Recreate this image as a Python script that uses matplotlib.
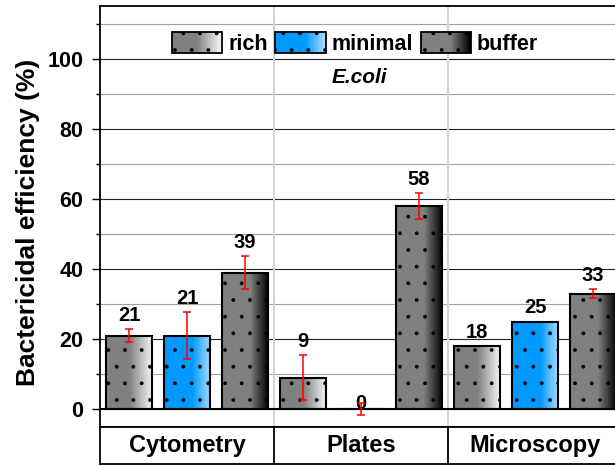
import numpy as np
import matplotlib
matplotlib.use('Agg')
import matplotlib.pyplot as plt
from matplotlib.colors import to_rgb
from matplotlib.legend_handler import HandlerBase
from matplotlib.patches import Rectangle

plt.rcParams['font.family'] = ['Liberation Sans', 'DejaVu Sans']
plt.rcParams['font.weight'] = 'bold'
plt.rcParams['hatch.color'] = 'black'
plt.rcParams['hatch.linewidth'] = 0.3

methods = ['Cytometry', 'Plates', 'Microscopy']
media = ['rich', 'minimal', 'buffer']
efficiency = {
    'rich': [21, 9, 18],
    'minimal': [21, 0, 25],
    'buffer': [39, 58, 33],
}
errors = {
    'rich': [1.8, 6.4, 0.0],
    'minimal': [6.7, 1.6, 0.0],
    'buffer': [4.7, 3.7, 1.3],
}
organism = 'E.coli'

# (flat colour, colour at right edge, fraction where the shading starts)
shading = {
    'rich': ('#808080', '#f8f8f8', 0.5),
    'minimal': ('#0099ff', '#a8dcff', 0.6),
    'buffer': ('#808080', '#000000', 0.6),
}


def gradient(name, n=64):
    base, end, knee = shading[name]
    base, end = np.array(to_rgb(base)), np.array(to_rgb(end))
    t = np.linspace(0, 1, n)
    w = np.clip((t - knee) / (1 - knee), 0, 1)[:, None]
    return base * (1 - w) + end * w


class GradientHandler(HandlerBase):
    def __init__(self, name):
        super().__init__()
        self.name = name

    def create_artists(self, legend, orig_handle, xdescent, ydescent,
                       width, height, fontsize, trans):
        cols = gradient(self.name, 40)
        step = width / len(cols)
        artists = []
        for i, c in enumerate(cols):
            artists.append(Rectangle((-xdescent + i * step, -ydescent), step * 1.05, height,
                                     facecolor=c, edgecolor='none', transform=trans))
        artists.append(Rectangle((-xdescent, -ydescent), width, height, facecolor='none',
                                 edgecolor='black', lw=1.3, hatch='.', transform=trans))
        return artists


fig = plt.figure(figsize=(6.15, 4.66), dpi=100)
ax = fig.add_axes([0.1626, 0.0837, 0.8488, 0.9034])
ax_cat = fig.add_axes([0.1626, 0.0043, 0.8488, 0.0794])

x = np.arange(len(methods))
slot = 1 / 3
width = 0.27

for j, name in enumerate(media):
    for i, (v, e) in enumerate(zip(efficiency[name], errors[name])):
        xc = x[i] + (j - 1) * slot
        if v > 0:
            img = gradient(name)[None, :, :]
            ax.imshow(img, extent=(xc - width / 2, xc + width / 2, 0, v),
                      aspect='auto', interpolation='bilinear', zorder=2)
        ax.bar(xc, v, width, facecolor='none', edgecolor='black', lw=1.5,
               hatch='.', zorder=3)
        if e > 0:
            ax.errorbar(xc, v, yerr=e, fmt='none', ecolor='red', elinewidth=1.1,
                        capsize=2.8, capthick=1.1, zorder=4)
        if v == 0:
            ax.text(xc, v + e, f'{v}', ha='center', va='center', fontsize=14.5,
                    fontweight='bold', zorder=3.5)
        else:
            ax.annotate(f'{v}', xy=(xc, v + e), xytext=(0, 3),
                        textcoords='offset points', ha='center', va='bottom',
                        fontsize=14.5, fontweight='bold', zorder=5)

ax.set_xlim(-0.5, 2.5)
ax.set_ylim(-5.14, 115.14)
ax.set_xticks([])
ax.set_yticks(np.arange(0, 101, 20))
ax.set_yticks(np.arange(10, 120, 20), minor=True)
ax.tick_params(axis='y', which='major', direction='out', length=6, width=1,
               labelsize=15.5, pad=6)
ax.tick_params(axis='y', which='minor', direction='out', length=3, width=1)

# grid
for yv in np.arange(20, 101, 20):
    ax.axhline(yv, color='#202020', lw=0.8, zorder=1)
for yv in np.arange(10, 120, 20):
    ax.axhline(yv, color='#a0a0a0', lw=0.8, zorder=1)
for xv in (0.5, 1.5):
    ax.axvline(xv, color='#d4d4d4', lw=1.5, zorder=1)
ax.axhline(0, color='black', lw=1.5, zorder=3)

for s in ax.spines.values():
    s.set_linewidth(1.3)

ax.set_ylabel('Bactericidal efficiency (%)', fontsize=19, fontweight='bold')
ax.yaxis.set_label_coords(-0.115, 0.486)

ax.text(0.496, 0.831, organism, transform=ax.transAxes, ha='center', va='center',
        fontsize=15, fontweight='bold', style='italic')

handles = [Rectangle((0, 0), 1, 1) for _ in media]
ax.legend(handles, media, handler_map={h: GradientHandler(n) for h, n in zip(handles, media)},
          loc='center', bbox_to_anchor=(0.4885, 0.912), ncol=3, frameon=False,
          fontsize=15.5, handlelength=2.33, handleheight=1.16, handletextpad=0.28,
          columnspacing=0.35, borderaxespad=0)

# category strip under the plot
ax_cat.set_xlim(-0.5, 2.5)
ax_cat.set_ylim(0, 1)
ax_cat.set_xticks([])
ax_cat.set_yticks([])
for s in ax_cat.spines.values():
    s.set_linewidth(1.3)
for xv in (0.5, 1.5):
    ax_cat.axvline(xv, color='black', lw=1.3)
for i, m in enumerate(methods):
    ax_cat.text(x[i], 0.5, m, ha='center', va='center', fontsize=17, fontweight='bold')

fig.savefig('out.png', dpi=100)
